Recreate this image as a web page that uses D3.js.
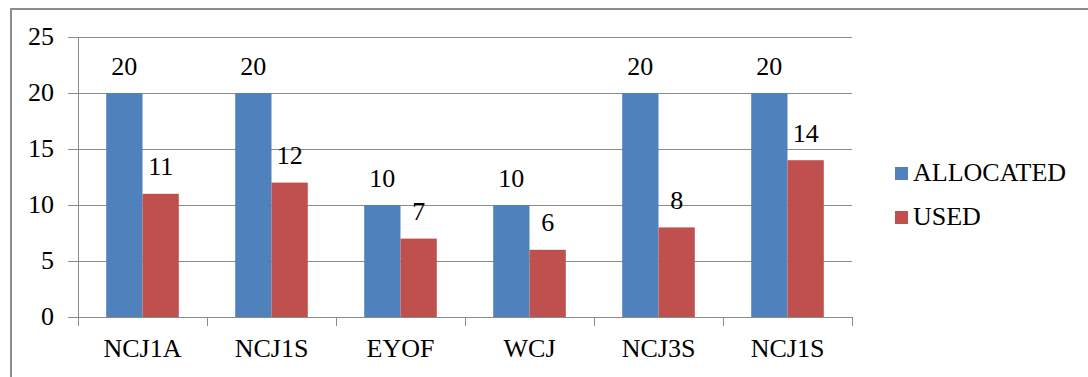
<!DOCTYPE html>
<html>
<head>
<meta charset="utf-8">
<script src="https://cdn.jsdelivr.net/npm/d3@7"></script>
<style>
  body { margin: 0; }
  #wrap { position: relative; width: 1088px; height: 377px; overflow: hidden; }
  #wrap svg { position: absolute; left: 0; top: 0; }
  .lab { position: absolute; white-space: nowrap; font-family: 'Liberation Serif'; font-size: 26px; line-height: 1; color: #000; }
</style>
</head>
<body>
<div id="wrap"></div>
<script>
const categories = ["NCJ1A", "NCJ1S", "EYOF", "WCJ", "NCJ3S", "NCJ1S"];
const seriesNames = ["ALLOCATED", "USED"];
const allocated = [20, 20, 10, 10, 20, 20];
const used = [11, 12, 7, 6, 8, 14];
const yTicks = [0, 5, 10, 15, 20, 25];
const colors = ["#4F81BD", "#C0504D"];

const W = 1088, H = 377;
const wrap = d3.select("#wrap");
const svg = wrap.append("svg").attr("width", W).attr("height", H);

// label helper: HTML text, anchored at (x, baseline y)
// Liberation Serif ascent ~0.891em at line-height 1 -> baseline offset ~ 0.8em of box
function label(x, yBase, text, anchor) {
  const d = wrap.append("div").attr("class", "lab").text(text);
  const node = d.node();
  const w = node.getBoundingClientRect().width;
  const left = anchor === "middle" ? x - w / 2 : anchor === "end" ? x - w : x;
  d.style("left", left + "px").style("top", (yBase - 26 * 0.86) + "px");
}

svg.append("rect")
  .attr("x", 11).attr("y", 9)
  .attr("width", 1200).attr("height", 500)
  .attr("fill", "none").attr("stroke", "#8c8c8c").attr("stroke-width", 2);

const plot = { left: 78, right: 852, top: 37, bottom: 317 };

const x0 = d3.scaleBand().domain(d3.range(categories.length))
  .range([plot.left, plot.right]).padding(0);
const x1 = d3.scaleBand().domain(seriesNames)
  .range([0, x0.bandwidth()]).paddingInner(0).paddingOuter(0.777);
const y = d3.scaleLinear().domain([0, 25]).range([plot.bottom, plot.top]);

const gridColor = "#8a8a8a";

svg.append("g").selectAll("line").data(yTicks).join("line")
  .attr("x1", plot.left - 10).attr("x2", plot.right)
  .attr("y1", d => Math.round(y(d)) + 0.5).attr("y2", d => Math.round(y(d)) + 0.5)
  .attr("stroke", gridColor).attr("stroke-width", 1);

yTicks.forEach(t => label(54, y(t) + 9, String(t), "end"));

const data = categories.map((c, i) => ({ i, c, vals: [allocated[i], used[i]] }));

const groups = svg.append("g").selectAll("g").data(data).join("g")
  .attr("transform", d => `translate(${x0(d.i)},0)`);

groups.selectAll("rect").data(d => d.vals.map((v, k) => ({ v, k }))).join("rect")
  .attr("x", d => x1(seriesNames[d.k]))
  .attr("width", x1.bandwidth())
  .attr("y", d => y(d.v))
  .attr("height", d => y(0) - y(d.v))
  .attr("fill", d => colors[d.k]);

data.forEach(d => d.vals.forEach((v, k) => {
  label(x0(d.i) + x1(seriesNames[k]) + x1.bandwidth() / 2, y(v) - 17, String(v), "middle");
}));

svg.append("line")
  .attr("x1", plot.left + 0.5).attr("x2", plot.left + 0.5)
  .attr("y1", plot.top).attr("y2", plot.bottom + 9)
  .attr("stroke", gridColor);
svg.append("line")
  .attr("x1", plot.left - 10).attr("x2", plot.right)
  .attr("y1", plot.bottom + 0.5).attr("y2", plot.bottom + 0.5)
  .attr("stroke", gridColor);

const bounds = d3.range(categories.length + 1).map(i => i < categories.length ? x0(i) : x0(i - 1) + x0.bandwidth());
svg.append("g").selectAll("line").data(bounds).join("line")
  .attr("x1", d => Math.round(d) + 0.5).attr("x2", d => Math.round(d) + 0.5)
  .attr("y1", plot.bottom).attr("y2", plot.bottom + 9)
  .attr("stroke", gridColor);

data.forEach(d => label(x0(d.i) + x0.bandwidth() / 2, 358, d.c, "middle"));

seriesNames.forEach((s, i) => {
  svg.append("rect").attr("x", 895).attr("y", 167 + i * 44)
    .attr("width", 13).attr("height", 13).attr("fill", colors[i]);
  label(913, 182 + i * 44, s, "start");
});
</script>
</body>
</html>
